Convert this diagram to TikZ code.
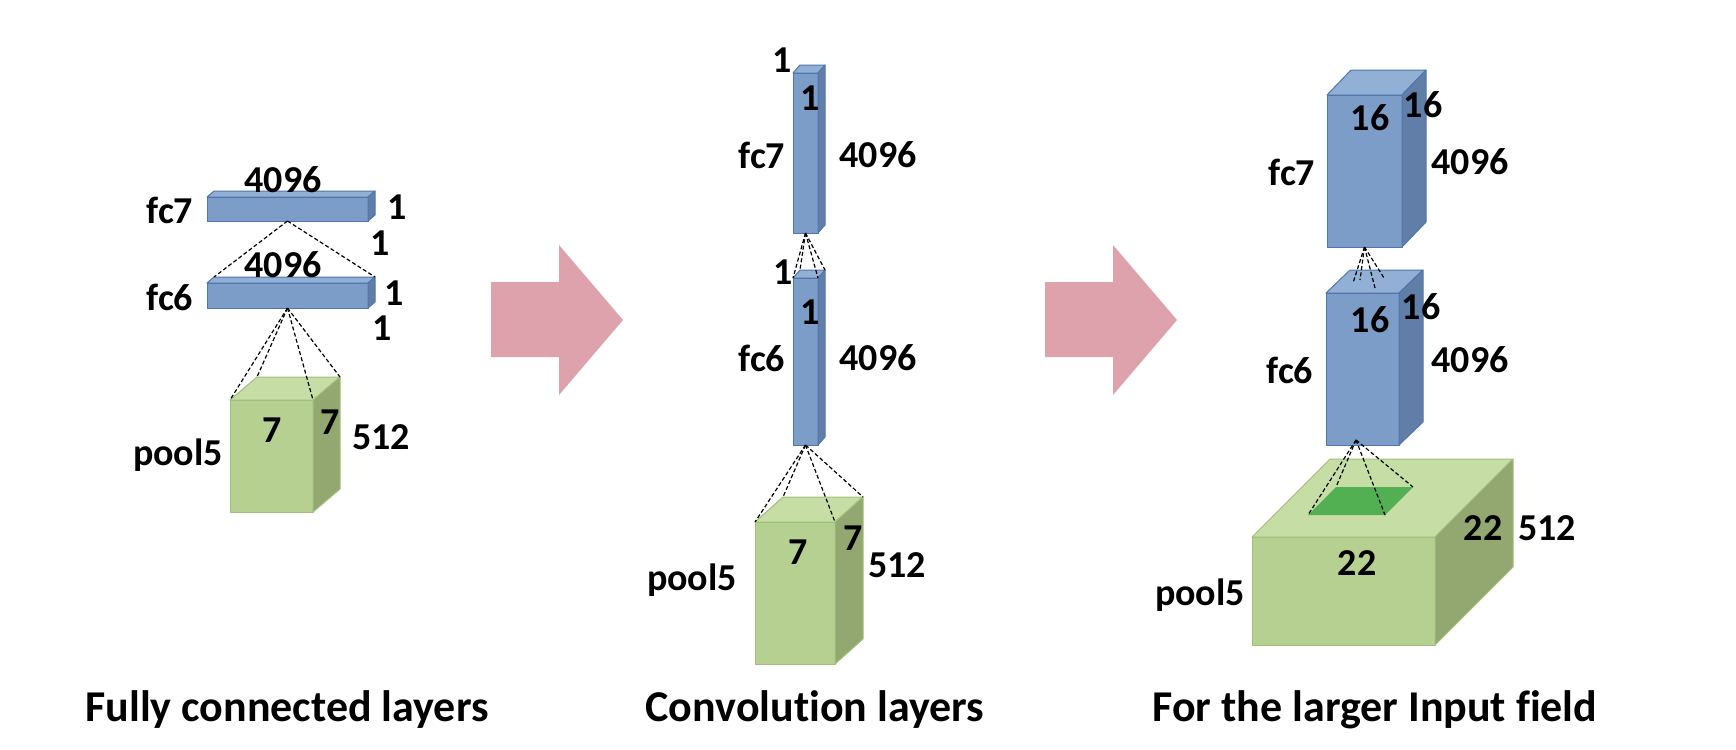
\documentclass[tikz,border=0pt]{standalone}
\usepackage{fontspec}
\setmainfont{Carlito}[Ligatures=CommonOff]
\definecolor{bfront}{RGB}{124,157,200}
\definecolor{btop}{RGB}{146,175,214}
\definecolor{bside}{RGB}{96,126,168}
\definecolor{bedge}{RGB}{80,118,170}
\definecolor{gfront}{RGB}{182,208,145}
\definecolor{gtop}{RGB}{198,221,166}
\definecolor{gside}{RGB}{146,168,112}
\definecolor{gedge}{RGB}{160,192,120}
\definecolor{pinkarrow}{RGB}{222,162,172}
\definecolor{darkgreen}{RGB}{82,176,82}
\newcommand{\cuboid}[8]{%
 \coordinate (#1-ftl) at (#2,#3);
 \coordinate (#1-ftr) at (#2+#4,#3);
 \coordinate (#1-fbl) at (#2,#3+#5);
 \coordinate (#1-fbr) at (#2+#4,#3+#5);
 \coordinate (#1-btl) at (#2+#6,#3-#7);
 \coordinate (#1-btr) at (#2+#4+#6,#3-#7);
 \coordinate (#1-bbr) at (#2+#4+#6,#3+#5-#7);
 \coordinate (#1-fbc) at (#2+#4/2,#3+#5);
 \filldraw[#8front] (#1-ftl) rectangle (#1-fbr);
 \filldraw[#8top] (#1-ftl) -- (#1-btl) -- (#1-btr) -- (#1-ftr) -- cycle;
 \filldraw[#8side] (#1-ftr) -- (#1-btr) -- (#1-bbr) -- (#1-fbr) -- cycle;
}
\tikzset{
 bluefront/.style={fill=bfront,draw=bedge,line width=0.5pt,line join=round},
 bluetop/.style={fill=btop,draw=bedge,line width=0.5pt,line join=round},
 blueside/.style={fill=bside,draw=bedge,line width=0.5pt,line join=round},
 greenfront/.style={fill=gfront,draw=gedge,line width=0.5pt,line join=round},
 greentop/.style={fill=gtop,draw=gedge,line width=0.5pt,line join=round},
 greenside/.style={fill=gside,draw=gedge,line width=0.5pt,line join=round},
 lbl/.style={font=\fontsize{19}{19}\selectfont\bfseries,inner sep=0pt},
 ttl/.style={font=\fontsize{22}{22}\selectfont\bfseries,inner sep=0pt},
 conn/.style={draw=black,line width=0.6pt,dash pattern=on 2pt off 1.2pt},
 bigarrow/.style={fill=pinkarrow,draw=none}
}
\begin{document}
\begin{tikzpicture}[x=0.5pt,y=-0.5pt]
\useasboundingbox[fill=white] (0,0) rectangle (1736,750);
% ---------- Panel 1 ----------
\cuboid{fcSevA}{207}{197}{161}{24}{7}{6}{blue}
\cuboid{fcSixA}{207}{283}{161}{25}{7}{6}{blue}
\cuboid{poolA}{230}{400}{83}{112}{27}{23}{green}
\draw[conn] (fcSevA-fbc) -- (fcSixA-btl);
\draw[conn] (fcSevA-fbc) -- (fcSixA-btr);
\draw[conn] (fcSixA-fbc) -- (poolA-ftl);
\draw[conn] (fcSixA-fbc) -- (poolA-btl);
\draw[conn] (fcSixA-fbc) -- (poolA-ftr);
\draw[conn] (fcSixA-fbc) -- (poolA-btr);
\node[lbl] (a4096a) at (283,180) {4096};
\node[lbl] (a4096b) at (283,265) {4096};
\node[lbl] (afc7) at (170,210) {fc7};
\node[lbl] (afc6) at (170,297) {fc6};
\node[lbl] (a1a) at (397,207) {1};
\node[lbl] (a1b) at (380,243) {1};
\node[lbl] (a1c) at (394,293) {1};
\node[lbl] (a1d) at (382,328) {1};
\node[lbl] (a7a) at (272,430) {7};
\node[lbl] (a7b) at (330,422) {7};
\node[lbl] (a512) at (381,437) {512};
\node[lbl] (apool) at (178,455) {pool5};
% ---------- Arrows ----------
\path[bigarrow] (491,282) -- (559,282) -- (559,245) -- (623,320) -- (559,395) -- (559,357) -- (491,357) -- cycle;
\path[bigarrow] (1045,282) -- (1113,282) -- (1113,245) -- (1177,320) -- (1113,395) -- (1113,357) -- (1045,357) -- cycle;
% ---------- Panel 2 ----------
\cuboid{fcSevB}{793}{73}{25}{160}{7}{8}{blue}
\cuboid{fcSixB}{793}{278}{25}{167}{7}{8}{blue}
\cuboid{poolB}{755}{522}{80}{142}{28}{25}{green}
\draw[conn] (fcSevB-fbc) -- (fcSixB-ftl);
\draw[conn] (fcSevB-fbc) -- (fcSixB-btl);
\draw[conn] (fcSevB-fbc) -- (fcSixB-ftr);
\draw[conn] (fcSevB-fbc) -- (fcSixB-btr);
\draw[conn] (fcSixB-fbc) -- (poolB-ftl);
\draw[conn] (fcSixB-fbc) -- (poolB-btl);
\draw[conn] (fcSixB-fbc) -- (poolB-ftr);
\draw[conn] (fcSixB-fbc) -- (poolB-btr);
\node[lbl] (b1a) at (782,60) {1};
\node[lbl] (b1b) at (810,98) {1};
\node[lbl] (bfc7) at (762,155) {fc7};
\node[lbl] (b4096a) at (878,155) {4096};
\node[lbl] (b1c) at (783,272) {1};
\node[lbl] (b1d) at (810,312) {1};
\node[lbl] (bfc6) at (762,358) {fc6};
\node[lbl] (b4096b) at (878,358) {4096};
\node[lbl] (b7a) at (798,552) {7};
\node[lbl] (b7b) at (853,538) {7};
\node[lbl] (b512) at (897,565) {512};
\node[lbl] (bpool) at (692,580) {pool5};
% ---------- Panel 3 ----------
\cuboid{fcSevC}{1327}{95}{75}{152}{24}{25}{blue}
\cuboid{fcSixC}{1326}{293}{73}{152}{24}{23}{blue}
\cuboid{poolC}{1252}{537}{183}{108}{78}{78}{green}
\coordinate (sq1) at (1308,515);
\coordinate (sq2) at (1385,515);
\coordinate (sq3) at (1413,487);
\coordinate (sq4) at (1336,487);
\fill[darkgreen] (sq1) -- (sq2) -- (sq3) -- (sq4) -- cycle;
\coordinate (t1) at (1353,283);
\coordinate (t2) at (1360,280);
\coordinate (t3) at (1375,288);
\coordinate (t4) at (1384,278);
\draw[conn] (fcSevC-fbc) -- (t1);
\draw[conn] (fcSevC-fbc) -- (t2);
\draw[conn] (fcSevC-fbc) -- (t3);
\draw[conn] (fcSevC-fbc) -- (t4);
\coordinate (apexC) at (1356,440);
\draw[conn] (apexC) -- (sq1);
\draw[conn] (apexC) -- (sq4);
\draw[conn] (apexC) -- (sq2);
\draw[conn] (apexC) -- (sq3);
\node[lbl] (c16a) at (1370,118) {16};
\node[lbl] (c16b) at (1423,105) {16};
\node[lbl] (c4096a) at (1470,162) {4096};
\node[lbl] (cfc7) at (1292,172) {fc7};
\node[lbl] (c16c) at (1370,320) {16};
\node[lbl] (c16d) at (1421,307) {16};
\node[lbl] (c4096b) at (1470,360) {4096};
\node[lbl] (cfc6) at (1290,370) {fc6};
\node[lbl] (c22a) at (1357,563) {22};
\node[lbl] (c22b) at (1483,528) {22};
\node[lbl] (c512) at (1547,528) {512};
\node[lbl] (cpool) at (1200,595) {pool5};
% ---------- Titles ----------
\node[ttl] (t1title) at (287,710) {Fully connected layers};
\node[ttl] (t2title) at (815,710) {Convolution layers};
\node[ttl] (t3title) at (1375,710) {For the larger Input field};
\end{tikzpicture}
\end{document}
